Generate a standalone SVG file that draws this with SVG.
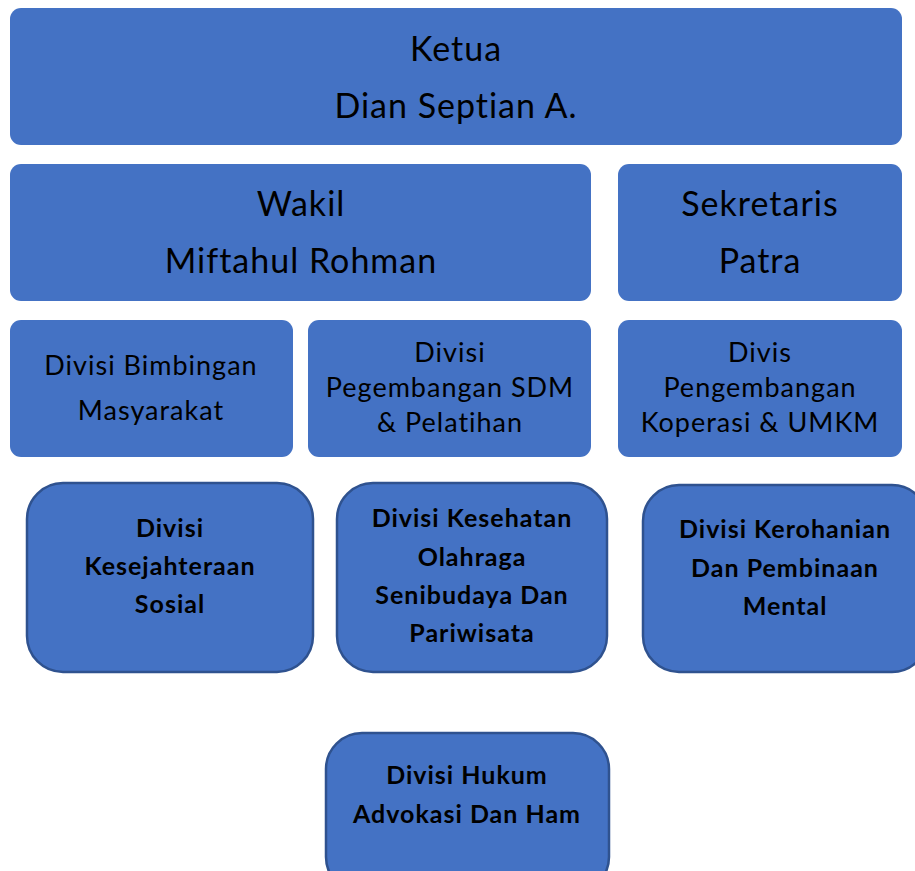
<svg xmlns="http://www.w3.org/2000/svg" width="915" height="871" viewBox="0 0 915 871">
  <style>
    .box { fill: #4472C4; }
    .obox { fill: #4472C4; stroke: #2F528F; stroke-width: 2.5; }
    text { font-family: Lato, "Open Sans", sans-serif; fill: #000; text-anchor: middle; font-variant-ligatures: none; letter-spacing: 1px; }
    .big { font-size: 34px; }
    .mid { font-size: 27px; }
    .bold { font-size: 25px; font-weight: bold; }
  </style>
  <rect width="915" height="871" fill="#fff"/>

  <g id="ketua">
    <rect class="box" x="10" y="8" width="892" height="137" rx="11"/>
    <text class="big" x="456" y="61">Ketua</text>
    <text class="big" x="456" y="118">Dian Septian A.</text>
  </g>

  <g id="wakil">
    <rect class="box" x="10" y="164" width="581" height="137" rx="11"/>
    <text class="big" x="301" y="216">Wakil</text>
    <text class="big" x="301" y="273">Miftahul Rohman</text>
  </g>

  <g id="sekretaris">
    <rect class="box" x="618" y="164" width="284" height="137" rx="11"/>
    <text class="big" x="760" y="216">Sekretaris</text>
    <text class="big" x="760" y="273">Patra</text>
  </g>

  <g id="bimbingan">
    <rect class="box" x="10" y="320" width="283" height="137" rx="11"/>
    <text class="mid" x="151" y="375">Divisi Bimbingan</text>
    <text class="mid" x="151" y="420">Masyarakat</text>
  </g>

  <g id="sdm">
    <rect class="box" x="308" y="320" width="283" height="137" rx="11"/>
    <text class="mid" x="450" y="362">Divisi</text>
    <text class="mid" x="450" y="397">Pegembangan SDM</text>
    <text class="mid" x="450" y="432">&amp; Pelatihan</text>
  </g>

  <g id="umkm">
    <rect class="box" x="618" y="320" width="284" height="137" rx="11"/>
    <text class="mid" x="760" y="362">Divis</text>
    <text class="mid" x="760" y="397">Pengembangan</text>
    <text class="mid" x="760" y="432">Koperasi &amp; UMKM</text>
  </g>

  <g id="kesejahteraan">
    <rect class="obox" x="27" y="483" width="286" height="189" rx="36"/>
    <text class="bold" x="170" y="537">Divisi</text>
    <text class="bold" x="170" y="575">Kesejahteraan</text>
    <text class="bold" x="170" y="613">Sosial</text>
  </g>

  <g id="kesehatan">
    <rect class="obox" x="337" y="483" width="270" height="189" rx="36"/>
    <text class="bold" x="472" y="527">Divisi Kesehatan</text>
    <text class="bold" x="472" y="566">Olahraga</text>
    <text class="bold" x="472" y="604">Senibudaya Dan</text>
    <text class="bold" x="472" y="642">Pariwisata</text>
  </g>

  <g id="kerohanian">
    <rect class="obox" x="643" y="485" width="285" height="187" rx="36"/>
    <text class="bold" x="785" y="538">Divisi Kerohanian</text>
    <text class="bold" x="785" y="577">Dan Pembinaan</text>
    <text class="bold" x="785" y="615">Mental</text>
  </g>

  <g id="hukum">
    <rect class="obox" x="326" y="733" width="283" height="160" rx="36"/>
    <text class="bold" x="467" y="784">Divisi Hukum</text>
    <text class="bold" x="467" y="823">Advokasi Dan Ham</text>
  </g>

  <g id="connectors"/>
</svg>
